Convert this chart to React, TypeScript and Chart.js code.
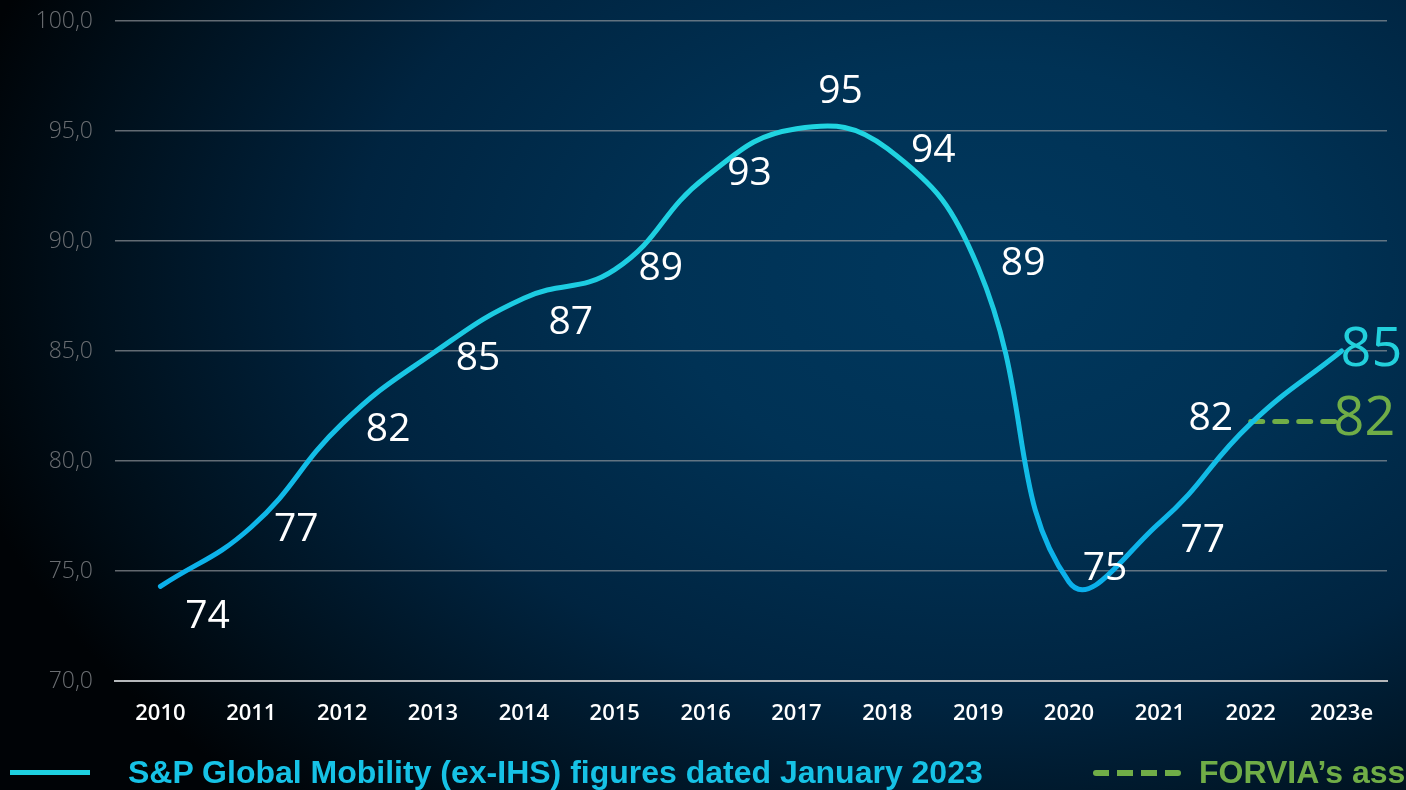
import React, { useEffect, useRef } from "react";
import { Chart, registerables } from "chart.js";

Chart.register(...registerables);

const categories = ["2010", "2011", "2012", "2013", "2014", "2015", "2016", "2017", "2018", "2019", "2020", "2021", "2022", "2023e"];
const sp_values = [74.3, 77.0, 81.7, 84.9, 87.4, 88.7, 92.9, 95.1, 94.2, 88.8, 74.5, 77.2, 81.7, 85.0];
const forvia_values = [null, null, null, null, null, null, null, null, null, null, null, null, 81.8, 81.8];
const y_min = 70;
const y_max = 100;
const y_step = 5;
const sp_label = "S&P Global Mobility (ex-IHS) figures dated January 2023";
const forvia_label = "FORVIA’s assumption";

// label offsets (dx, dy) relative to each point, style only
const labelOffsets: [number, number][] = [
  [47, 30], [45, 3], [46, 6], [45, 6], [47, 25], [46, -1], [44, -3],
  [44, -37], [46, 2], [45, -4], [36, -13], [43, 18], [-40, -5], [31, 0],
];

const NUM_FONT = "'Open Sans', 'Noto Sans', sans-serif";

const labelPlugin = {
  id: "valueLabels",
  afterDatasetsDraw(chart: any) {
    const ctx = chart.ctx;
    const meta0 = chart.getDatasetMeta(0);
    const meta1 = chart.getDatasetMeta(1);
    ctx.save();
    ctx.textBaseline = "middle";
    ctx.textAlign = "center";
    const last = sp_values.length - 1;
    meta0.data.forEach((pt: any, i: number) => {
      const [dx, dy] = labelOffsets[i];
      if (i === last) {
        ctx.font = `400 54px ${NUM_FONT}`;
        ctx.fillStyle = "#22d0dc";
        ctx.textAlign = "left";
        ctx.fillText(String(Math.round(sp_values[i])), pt.x - 1, pt.y + dy);
        ctx.textAlign = "center";
      } else {
        ctx.font = `400 39px ${NUM_FONT}`;
        ctx.fillStyle = "#ffffff";
        ctx.fillText(String(Math.round(sp_values[i])), pt.x + dx, pt.y + dy);
      }
    });
    const g = meta1.data[last];
    const gv = forvia_values[last];
    if (g && gv != null) {
      ctx.font = `400 54px ${NUM_FONT}`;
      ctx.fillStyle = "#70ad47";
      ctx.textAlign = "left";
      ctx.fillText(String(Math.round(gv)), g.x - 8, g.y - 2);
    }
    ctx.restore();
  },
};

export default function App() {
  const ref = useRef<HTMLCanvasElement | null>(null);
  useEffect(() => {
    document.body.style.margin = "0";
    const canvas = ref.current!;
    const chart = new Chart(canvas, {
      type: "line",
      data: {
        labels: categories,
        datasets: [
          {
            label: sp_label,
            data: sp_values,
            borderColor: (c: any) => {
              const area = c.chart.chartArea;
              if (!area) return "#1ecfe0";
              const grad = c.chart.ctx.createLinearGradient(0, area.top, 0, area.bottom);
              grad.addColorStop(0, "#22dae0");
              grad.addColorStop(0.45, "#1ccbe2");
              grad.addColorStop(1, "#04a6ee");
              return grad;
            },
            borderWidth: 5,
            tension: 0.45,
            pointRadius: 0,
            borderCapStyle: "round",
            borderJoinStyle: "round",
            fill: false,
          },
          {
            label: forvia_label,
            data: forvia_values,
            borderColor: "#70ad47",
            borderWidth: 5,
            borderDash: [12, 12],
            borderCapStyle: "round",
            pointRadius: 0,
            tension: 0,
            fill: false,
          },
        ],
      },
      options: {
        responsive: false,
        animation: false,
        layout: { padding: { top: 21, right: 19, left: 0, bottom: 0 } },
        plugins: { legend: { display: false }, tooltip: { enabled: false } },
        scales: {
          x: {
            offset: true,
            grid: { display: false, drawTicks: false },
            border: { display: true, color: "#b5b8bb", width: 2 },
            ticks: {
              color: "#ffffff",
              font: { family: NUM_FONT, size: 22, weight: "600" },
              padding: 20,
              maxRotation: 0,
            },
            afterFit: (s: any) => { s.height = 109; },
          },
          y: {
            min: y_min,
            max: y_max,
            grid: { color: "rgba(150,155,160,0.65)", lineWidth: 1.5, drawTicks: false },
            border: { display: false },
            ticks: {
              stepSize: y_step,
              color: "#6a6e72",
              font: { family: NUM_FONT, size: 23, weight: "300" },
              padding: 22,
              callback: (v: any) => Number(v).toFixed(1).replace(".", ","),
            },
            afterFit: (s: any) => {
              s.width = 115;
              s.paddingTop = 0;
              s.paddingBottom = 0;
            },
          },
        },
      },
      plugins: [labelPlugin],
    } as any);
    return () => chart.destroy();
  }, []);

  return (
    <div
      style={{
        position: "fixed",
        left: 0,
        top: 0,
        width: 1406,
        height: 790,
        overflow: "hidden",
        background:
          "radial-gradient(ellipse 75% 90% at 70% 35%, #00385e 0%, #003255 30%, #002440 60%, #00101c 85%, #000306 100%)",
      }}
    >
      <canvas ref={ref} width={1406} height={790} style={{ position: "absolute", left: 0, top: 0 }} />
      <div style={{ position: "absolute", left: 10, top: 770, width: 80, height: 5, background: "#1ed0e0" }} />
      <div
        style={{
          position: "absolute",
          left: 128,
          top: 754,
          fontFamily: "'Liberation Sans', Arial, sans-serif",
          fontWeight: 700,
          fontSize: 32,
          color: "#16c2e6",
          whiteSpace: "nowrap",
          lineHeight: "36px",
        }}
      >
        {sp_label}
      </div>
      <div
        style={{
          position: "absolute",
          left: 1093,
          top: 770,
          width: 88,
          height: 6,
          background: "repeating-linear-gradient(90deg, #70ad47 0 16px, transparent 16px 24px)",
          borderRadius: 3,
        }}
      />
      <div
        style={{
          position: "absolute",
          left: 1199,
          top: 754,
          fontFamily: "'Liberation Sans', Arial, sans-serif",
          fontWeight: 700,
          fontSize: 32,
          color: "#70ad47",
          whiteSpace: "nowrap",
          lineHeight: "36px",
        }}
      >
        {forvia_label}
      </div>
    </div>
  );
}
